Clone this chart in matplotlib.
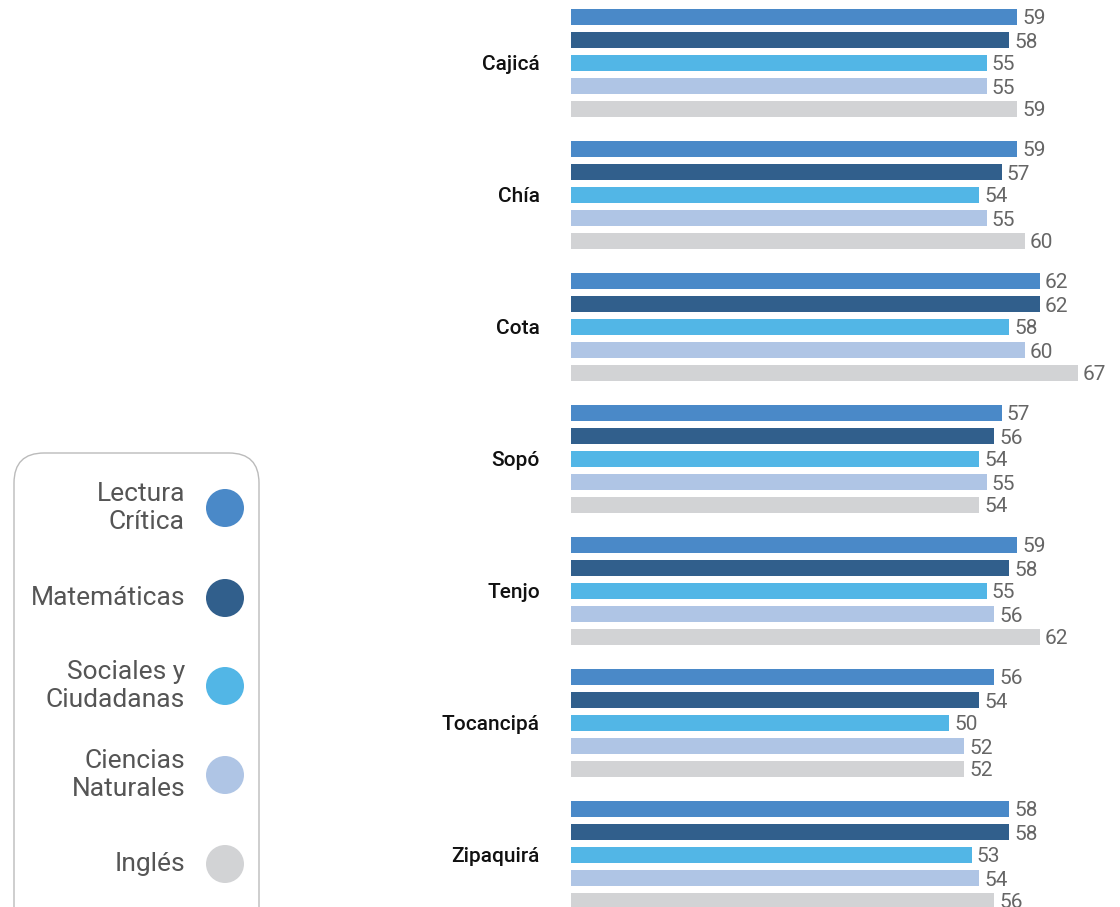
import matplotlib
matplotlib.use("Agg")
import matplotlib.pyplot as plt
from matplotlib.patches import FancyBboxPatch, Circle

municipios = ["Cajicá", "Chía", "Cota", "Sopó", "Tenjo", "Tocancipá", "Zipaquirá"]
areas = ["Lectura\nCrítica", "Matemáticas", "Sociales y\nCiudadanas", "Ciencias\nNaturales", "Inglés"]
lectura = [59, 59, 62, 57, 59, 56, 58]
matematicas = [58, 57, 62, 56, 58, 54, 58]
sociales = [55, 54, 58, 54, 55, 50, 53]
ciencias = [55, 55, 60, 55, 56, 52, 54]
ingles = [59, 60, 67, 54, 62, 52, 56]
colors = ["#4A89C8", "#315F8C", "#52B6E6", "#AFC5E5", "#D2D3D5"]

series = [lectura, matematicas, sociales, ciencias, ingles]

W, H = 1120, 907
fig = plt.figure(figsize=(W / 100, H / 100), dpi=100)
fig.patch.set_facecolor("white")

px_per_unit = 7.56
ax_left = 571
ax = fig.add_axes([ax_left / W, 0, (W - ax_left) / W, 1])
ax.set_xlim(0, (W - ax_left) / px_per_unit)
ax.set_ylim(H, 0)
ax.axis("off")

first_center = 17
group_pitch = 132
bar_pitch = 23
bar_h = 16

for i, muni in enumerate(municipios):
    for j, s in enumerate(series):
        y = first_center + group_pitch * i + bar_pitch * j
        v = s[i]
        ax.barh(y, v, height=bar_h, color=colors[j], edgecolor="none")
        ax.annotate(str(v), xy=(v, y), xytext=(5, -2), textcoords="offset pixels",
                    ha="left", va="center", fontsize=15, color="#666666",
                    family="Roboto", fontweight="normal", clip_on=False)
    yc = first_center + group_pitch * i + bar_pitch * 2
    ax.annotate(muni, xy=(0, yc), xytext=(-31, -1), textcoords="offset pixels",
                ha="right", va="center", fontsize=15, color="#111111",
                family="Roboto", fontweight="medium")

# legend
lax = fig.add_axes([0, 0, 1, 1])
lax.set_xlim(0, W)
lax.set_ylim(H, 0)
lax.axis("off")
lax.set_zorder(-1)
box = FancyBboxPatch((14, 453), 245, 520, boxstyle="round,pad=0,rounding_size=30",
                     facecolor="white", edgecolor="#BBBBBB", linewidth=1.0)
lax.add_patch(box)
leg_y = [508, 598, 686, 775, 864]
for lab, c, y in zip(areas, colors, leg_y):
    lax.add_patch(Circle((225, y), 19, facecolor=c, edgecolor="none"))
    lax.text(185, y, lab, ha="right", va="center", fontsize=19, color="#555555",
             family="Roboto", fontweight="normal", linespacing=1.18,
             multialignment="right")

fig.savefig("out.png", dpi=100, facecolor="white")
